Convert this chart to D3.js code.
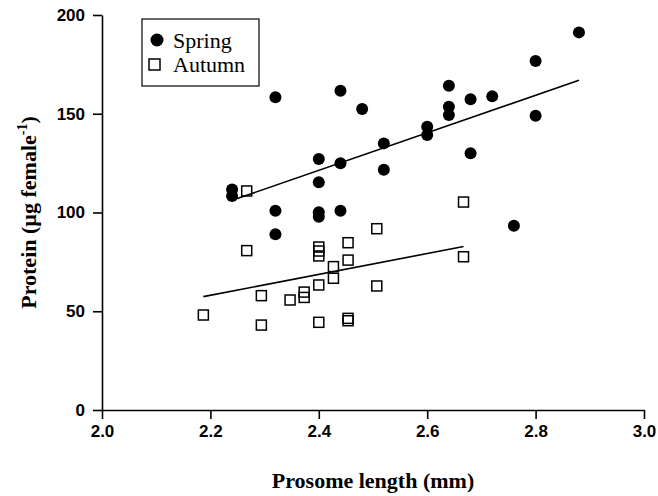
<!DOCTYPE html>
<html>
<head>
<meta charset="utf-8">
<script src="https://cdn.jsdelivr.net/npm/d3@7"></script>
<style>
  body { margin: 0; background: #fff; }
  svg { display: block; }
</style>
</head>
<body>
<div id="chart"><svg width="658" height="496"></svg></div>
<script>
// Spring: prosome length (mm) and protein (ug female-1)
const springLength = [2.24, 2.24, 2.32, 2.32, 2.32, 2.40, 2.40, 2.40, 2.40, 2.44, 2.44, 2.44, 2.48, 2.52,
  2.52, 2.60, 2.60, 2.64, 2.64, 2.64, 2.68, 2.68, 2.72, 2.76, 2.80, 2.80, 2.88];
const springProtein = [111.7, 108.4, 158.3, 100.9, 89, 127.1, 115.3, 100.1, 97.9, 161.7, 124.9, 100.9, 152.4, 135,
  121.7, 143.4, 139.2, 164.2, 153.6, 149.4, 157.3, 130, 158.8, 93.3, 176.7, 149, 191.2];

// Autumn
const autumnLength = [2.187, 2.267, 2.267, 2.294, 2.294, 2.347, 2.373, 2.373, 2.40, 2.40, 2.40, 2.40, 2.40,
  2.427, 2.427, 2.454, 2.454, 2.454, 2.454, 2.507, 2.507, 2.667, 2.667];
const autumnProtein = [48.1, 110.9, 80.7, 57.9, 43, 55.7, 59.7, 57, 82.5, 80.5, 78, 63.3, 44.4,
  72.6, 66.7, 84.7, 75.9, 46.4, 45.2, 91.8, 62.8, 105.3, 77.6];

const xTicks = [2.0, 2.2, 2.4, 2.6, 2.8, 3.0];
const yTicks = [0, 50, 100, 150, 200];
const seriesNames = ["Spring", "Autumn"];

const svg = d3.select("#chart svg");

const x = d3.scaleLinear().domain([2.0, 3.0]).range([102, 644]);
const y = d3.scaleLinear().domain([0, 200]).range([410, 15]);

// least squares fit, drawn over the range of the data
function fit(xs, ys) {
  const mx = d3.mean(xs), my = d3.mean(ys);
  let sxy = 0, sxx = 0;
  xs.forEach((v, i) => {
    sxy += (v - mx) * (ys[i] - my);
    sxx += (v - mx) * (v - mx);
  });
  const b = sxy / sxx, a = my - b * mx;
  const ext = d3.extent(xs);
  return ext.map((v) => [v, a + b * v]);
}

// axes
const xAxis = svg.append("g")
  .attr("transform", `translate(0, ${y(0)})`)
  .call(d3.axisBottom(x).tickValues(xTicks).tickFormat(d3.format(".1f")).tickSize(9).tickSizeOuter(0).tickPadding(6));
const yAxis = svg.append("g")
  .attr("transform", `translate(${x(2.0)}, 0)`)
  .call(d3.axisLeft(y).tickValues(yTicks).tickSize(9).tickSizeOuter(0).tickPadding(8));

[xAxis, yAxis].forEach((a) => {
  a.select(".domain").attr("stroke", "#000").attr("stroke-width", 1.6);
  a.selectAll(".tick line").attr("stroke", "#000").attr("stroke-width", 1.6);
  a.selectAll(".tick text")
    .attr("fill", "#000")
    .style("font-family", "'Liberation Sans', Arial, sans-serif")
    .style("font-weight", "bold")
    .style("font-size", "17px");
});

// regression lines
const line = d3.line().x((d) => x(d[0])).y((d) => y(d[1]));
svg.append("path")
  .attr("d", line(fit(springLength, springProtein)))
  .attr("fill", "none").attr("stroke", "#000").attr("stroke-width", 1.6);
svg.append("path")
  .attr("d", line(fit(autumnLength, autumnProtein)))
  .attr("fill", "none").attr("stroke", "#000").attr("stroke-width", 1.6);

// points
const sq = 10;
svg.append("g").selectAll("rect")
  .data(autumnLength.map((v, i) => [v, autumnProtein[i]]))
  .enter().append("rect")
  .attr("x", (d) => x(d[0]) - sq / 2)
  .attr("y", (d) => y(d[1]) - sq / 2)
  .attr("width", sq).attr("height", sq)
  .attr("fill", "none").attr("stroke", "#000").attr("stroke-width", 1.5);

svg.append("g").selectAll("circle")
  .data(springLength.map((v, i) => [v, springProtein[i]]))
  .enter().append("circle")
  .attr("cx", (d) => x(d[0]))
  .attr("cy", (d) => y(d[1]))
  .attr("r", 6)
  .attr("fill", "#000");

// legend
const lg = svg.append("g").attr("transform", "translate(142, 19)");
lg.append("rect").attr("width", 117).attr("height", 67)
  .attr("fill", "#fff").attr("stroke", "#000").attr("stroke-width", 1.2);
lg.append("circle").attr("cx", 15).attr("cy", 21).attr("r", 6.5).attr("fill", "#000");
lg.append("rect").attr("x", 7).attr("y", 40).attr("width", 11).attr("height", 11)
  .attr("fill", "none").attr("stroke", "#000").attr("stroke-width", 1.5);
lg.selectAll("text.lab")
  .data(seriesNames)
  .enter().append("text")
  .attr("class", "lab")
  .attr("x", 31)
  .attr("y", (_, i) => 29 + i * 24)
  .style("font-family", "'Liberation Serif', 'Times New Roman', serif")
  .style("font-size", "22px")
  .text((d) => d);

// axis titles
svg.append("text")
  .attr("x", (x(2.0) + x(3.0)) / 2)
  .attr("y", 488)
  .attr("text-anchor", "middle")
  .style("font-family", "'Liberation Serif', 'Times New Roman', serif")
  .style("font-weight", "bold")
  .style("font-size", "22px")
  .text("Prosome length (mm)");

const yt = svg.append("text")
  .attr("transform", `translate(36, ${(y(0) + y(200)) / 2}) rotate(-90)`)
  .attr("text-anchor", "middle")
  .style("font-family", "'Liberation Serif', 'Times New Roman', serif")
  .style("font-weight", "bold")
  .style("font-size", "22px");
yt.append("tspan").text("Protein (µg female");
yt.append("tspan").attr("dy", -9).style("font-size", "14px").text("-1");
yt.append("tspan").attr("dy", 9).text(")");
</script>
</body>
</html>
